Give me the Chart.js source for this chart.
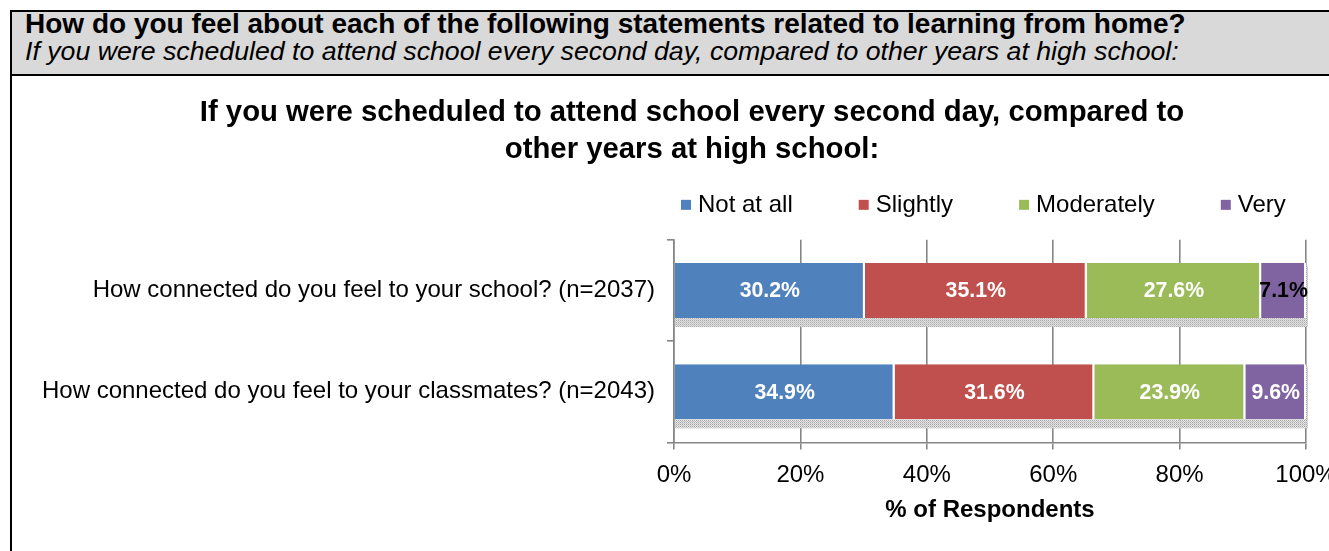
<!DOCTYPE html>
<html>
<head>
<meta charset="utf-8">
<title>Learning from home</title>
<script src="https://cdn.jsdelivr.net/npm/chart.js@4.4.1/dist/chart.umd.min.js"></script>
<style>
    html, body { margin: 0; padding: 0; background: #fff; width: 1329px; height: 551px; overflow: hidden; }
    body { position: relative; font-family: "Liberation Sans", Arial, sans-serif; color: #000; }
    .frame-left { position: absolute; left: 10px; top: 10px; width: 2px; height: 560px; background: #000; }
    .header { position: absolute; left: 10px; top: 10px; width: 1400px; height: 62px; background: #d9d9d9;
              border-top: 2px solid #000; border-bottom: 2px solid #000; }
    .header .q { position: absolute; left: 15px; top: -3px; font-size: 28px; line-height: 30px; font-weight: bold; white-space: nowrap; }
    .header .sub { position: absolute; left: 15px; top: 24px; font-size: 26.7px; line-height: 30px; font-style: italic; white-space: nowrap; }
    #chart { position: absolute; left: 12px; top: 76px; }
</style>
</head>
<body>
<div class="header">
    <div class="q">How do you feel about each of the following statements related to learning from home?</div>
    <div class="sub">If you were scheduled to attend school every second day, compared to other years at high school:</div>
</div>
<div class="frame-left"></div>
<canvas id="chart" width="1360" height="475"></canvas>

<script>
// --- data ---
const chartTitle = ['If you were scheduled to attend school every second day, compared to', 'other years at high school:'];
const categories = ['How connected do you feel to your school? (n=2037)', 'How connected do you feel to your classmates? (n=2043)'];
const seriesNames = ['Not at all', 'Slightly', 'Moderately', 'Very'];
const notAtAll = [30.2, 34.9];
const slightly = [35.1, 31.6];
const moderately = [27.6, 23.9];
const very = [7.1, 9.6];
const xTicks = [0, 20, 40, 60, 80, 100];
const seriesColors = ['#4f81bd', '#c0504d', '#9bbb59', '#8064a2'];

const FONT = "'Liberation Sans', Arial, sans-serif";
const GRID = '#868686';

Chart.defaults.font.family = FONT;
Chart.defaults.color = '#000';

// dotted grey strip under each bar, like the Excel shadow
function shadowPattern(ctx) {
    const c = document.createElement('canvas');
    c.width = 2; c.height = 2;
    const p = c.getContext('2d');
    p.fillStyle = '#e2e2e2'; p.fillRect(0, 0, 2, 2);
    p.fillStyle = '#a9a9a9'; p.fillRect(0, 0, 1, 1);
    p.fillStyle = '#c6c6c6'; p.fillRect(1, 1, 1, 1);
    return ctx.createPattern(c, 'repeat');
}

const barShadow = {
    id: 'barShadow',
    beforeDatasetsDraw(chart) {
        const ctx = chart.ctx;
        const first = chart.getDatasetMeta(0);
        const last = chart.getDatasetMeta(chart.data.datasets.length - 1);
        ctx.save();
        ctx.fillStyle = shadowPattern(ctx);
        first.data.forEach((bar, j) => {
            const {y, height, base} = bar.getProps(['y', 'height', 'base'], true);
            const end = last.data[j].x;
            ctx.fillRect(base, y + height / 2, end - base + 2, 9);
            ctx.fillRect(end, y - height / 2 + 3, 2, height);
        });
        ctx.restore();
    }
};

// percentage labels centred in each segment
const segmentLabels = {
    id: 'segmentLabels',
    afterDatasetsDraw(chart) {
        const ctx = chart.ctx;
        ctx.save();
        ctx.font = 'bold 21.3px ' + FONT;
        ctx.textAlign = 'center';
        ctx.textBaseline = 'middle';
        chart.data.datasets.forEach((ds, i) => {
            chart.getDatasetMeta(i).data.forEach((bar, j) => {
                const text = ds.data[j].toFixed(1) + '%';
                const w = Math.abs(bar.x - bar.base);
                ctx.fillStyle = ctx.measureText(text).width > w - 4 ? '#000' : '#fff';
                ctx.fillText(text, (bar.x + bar.base) / 2, bar.y + 1);
            });
        });
        ctx.restore();
    }
};

// legend row above the plot, left-aligned with the plot area
const legendRow = {
    id: 'legendRow',
    afterDraw(chart) {
        const ctx = chart.ctx;
        const area = chart.chartArea;
        let x = area.left + 7;
        const y = area.top - 35;
        ctx.save();
        ctx.font = '24px ' + FONT;
        ctx.textBaseline = 'middle';
        chart.data.datasets.forEach(ds => {
            ctx.fillStyle = ds.backgroundColor;
            ctx.fillRect(x, y - 5, 10, 10);
            ctx.fillStyle = '#000';
            ctx.fillText(ds.label, x + 17, y + 1);
            x += 17 + ctx.measureText(ds.label).width + 66;
        });
        ctx.restore();
    }
};

const seriesValues = [notAtAll, slightly, moderately, very];

new Chart(document.getElementById('chart'), {
    type: 'bar',
    data: {
        labels: categories,
        datasets: seriesNames.map((name, i) => ({
            label: name,
            data: seriesValues[i],
            backgroundColor: seriesColors[i],
            borderColor: '#fff',
            borderWidth: {top: 0, bottom: 0, left: 0, right: 2},
            borderSkipped: false,
            barPercentage: 0.545,
            categoryPercentage: 1
        }))
    },
    options: {
        indexAxis: 'y',
        responsive: false,
        animation: false,
        layout: { padding: { bottom: 22 } },
        plugins: {
            legend: { display: false },
            tooltip: { enabled: false },
            title: {
                display: true,
                text: chartTitle,
                font: { size: 29.3, weight: 'bold', lineHeight: 1.26 },
                padding: { top: 18.5, bottom: 71.5 }
            }
        },
        scales: {
            x: {
                stacked: true,
                min: 0,
                max: 100,
                afterBuildTicks: scale => { scale.ticks = xTicks.map(v => ({ value: v })); },
                afterFit: scale => { scale.paddingRight = 66; },
                ticks: { callback: v => v + '%', font: { size: 24 }, padding: 12, maxRotation: 0 },
                grid: { color: GRID, lineWidth: 1.6, tickLength: 7 },
                border: { color: GRID, width: 1.6 },
                title: { display: true, text: '% of Respondents', font: { size: 24, weight: 'bold' }, padding: { top: -6, bottom: 4 } }
            },
            y: {
                stacked: true,
                afterFit: scale => { scale.width = 662; },
                ticks: { font: { size: 24 }, padding: 12 },
                grid: { drawOnChartArea: false, color: GRID, lineWidth: 1.6, tickLength: 7 },
                border: { color: GRID, width: 1.6 }
            }
        }
    },
    plugins: [barShadow, segmentLabels, legendRow]
});
</script>
</body>
</html>
